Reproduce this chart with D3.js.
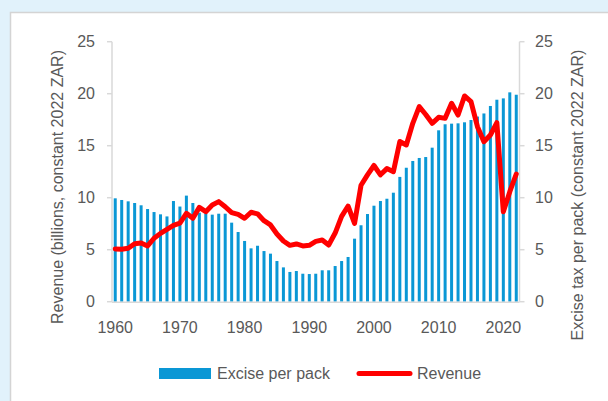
<!DOCTYPE html>
<html lang="en">
<head>
  <meta charset="UTF-8">
  <title>Excise and revenue</title>
  <script src="https://d3js.org/d3.v7.min.js"></script>
  <style>
    body { margin: 0; background-color: #e1f2fb; font-family: "Liberation Sans", Arial, sans-serif; }
    svg { display: block; }
    .lbl { fill: #595959; font-size: 16px; }
    .axisline { stroke: #d9d9d9; stroke-width: 1.5px; fill: none; }
  </style>
</head>
<body>

<svg id="svg"></svg>

<script>
// data
const years = [1960,1961,1962,1963,1964,1965,1966,1967,1968,1969,
  1970,1971,1972,1973,1974,1975,1976,1977,1978,1979,
  1980,1981,1982,1983,1984,1985,1986,1987,1988,1989,
  1990,1991,1992,1993,1994,1995,1996,1997,1998,1999,
  2000,2001,2002,2003,2004,2005,2006,2007,2008,2009,
  2010,2011,2012,2013,2014,2015,2016,2017,2018,2019,
  2020,2021,2022];

const excisePerPack = [9.94,9.78,9.65,9.49,9.27,8.91,8.62,8.40,8.20,9.68,
  9.15,10.2,9.49,8.56,8.50,8.37,8.46,8.46,7.60,6.70,
  5.84,5.13,5.38,4.87,4.62,3.91,3.30,2.86,2.95,2.69,
  2.66,2.69,3.02,3.02,3.43,3.91,4.30,6.06,7.35,8.43,
  9.23,9.68,9.90,10.48,12.0,12.88,13.53,13.82,13.91,14.81,
  16.48,17.06,17.12,17.15,17.25,17.47,17.8,18.1,18.82,19.42,
  19.55,20.13,19.9];

const revenue = [5.07,5.04,5.13,5.58,5.64,5.36,6.10,6.57,6.96,7.34,
  7.55,8.5,8.02,9.07,8.66,9.3,9.62,9.13,8.56,8.4,
  8.02,8.6,8.45,7.79,7.38,6.51,5.84,5.42,5.55,5.36,
  5.42,5.8,5.93,5.45,6.6,8.2,9.2,7.53,11.2,12.2,
  13.1,12.2,12.8,12.5,15.4,15.07,17.15,18.75,18.0,17.15,
  17.73,17.63,19.08,17.95,19.78,19.23,16.83,15.38,16.03,17.21,
  8.65,10.58,12.28];

const yTicks = [0, 5, 10, 15, 20, 25];
const xTickYears = [1960, 1970, 1980, 1990, 2000, 2010, 2020];

const leftTitle = "Revenue (billions, constant 2022 ZAR)";
const rightTitle = "Excise tax per pack (constant 2022 ZAR)";
const legendNames = ["Excise per pack", "Revenue"];

// layout
const width = 608, height = 401;
const plotLeft = 112, plotRight = 519.5, plotTop = 41.7, plotBottom = 301.7;

const svg = d3.select("#svg").attr("width", width).attr("height", height);

// white panel
svg.append("rect")
  .attr("x", 10.5).attr("y", 12.5)
  .attr("width", 620).attr("height", 420)
  .attr("fill", "white")
  .attr("stroke", "#d4d4d4")
  .attr("stroke-width", 1.5);

const x = d3.scaleBand().domain(years).range([plotLeft, plotRight]);
const y = d3.scaleLinear().domain([0, 25]).range([plotBottom, plotTop]);   // revenue
const y2 = d3.scaleLinear().domain([0, 25]).range([plotBottom, plotTop]);  // excise

// axes lines
svg.append("line").attr("class", "axisline")
  .attr("x1", plotLeft).attr("x2", plotLeft).attr("y1", plotTop).attr("y2", plotBottom);
svg.append("line").attr("class", "axisline")
  .attr("x1", plotRight).attr("x2", plotRight).attr("y1", plotTop).attr("y2", plotBottom);

svg.selectAll(".ltick").data(yTicks).join("line")
  .attr("class", "axisline ltick")
  .attr("x1", plotLeft - 5).attr("x2", plotLeft)
  .attr("y1", d => y(d)).attr("y2", d => y(d));
svg.selectAll(".rtick").data(yTicks).join("line")
  .attr("class", "axisline rtick")
  .attr("x1", plotRight).attr("x2", plotRight + 5)
  .attr("y1", d => y2(d)).attr("y2", d => y2(d));

svg.selectAll(".llabel").data(yTicks).join("text")
  .attr("class", "lbl llabel")
  .attr("x", 95).attr("y", d => y(d))
  .attr("dy", "0.35em")
  .attr("text-anchor", "end")
  .text(d => d);
svg.selectAll(".rlabel").data(yTicks).join("text")
  .attr("class", "lbl rlabel")
  .attr("x", 535).attr("y", d => y2(d))
  .attr("dy", "0.35em")
  .attr("text-anchor", "start")
  .text(d => d);

// bars
const barW = 3;
svg.append("g").selectAll("rect")
  .data(years.map((yr, i) => ({year: yr, v: excisePerPack[i]})))
  .join("rect")
  .attr("x", d => x(d.year) + x.bandwidth() / 2 - barW / 2)
  .attr("width", barW)
  .attr("y", d => y2(d.v))
  .attr("height", d => y2(0) - y2(d.v))
  .attr("fill", "#0a97d5");

// x axis line on top of bars
svg.append("line").attr("class", "axisline")
  .attr("x1", plotLeft).attr("x2", plotRight).attr("y1", plotBottom + 0.5).attr("y2", plotBottom + 0.5);

svg.selectAll(".xlabel").data(xTickYears).join("text")
  .attr("class", "lbl xlabel")
  .attr("x", d => x(d) + x.bandwidth() / 2)
  .attr("y", 333)
  .attr("text-anchor", "middle")
  .text(d => d);

// revenue line
const line = d3.line()
  .x((d, i) => x(years[i]) + x.bandwidth() / 2)
  .y(d => y(d));
svg.append("path")
  .attr("d", line(revenue))
  .attr("fill", "none")
  .attr("stroke", "#ff0000")
  .attr("stroke-width", 5)
  .attr("stroke-linejoin", "round")
  .attr("stroke-linecap", "round");

// axis titles
svg.append("text").attr("class", "lbl")
  .attr("transform", "translate(63,187) rotate(-90)")
  .attr("text-anchor", "middle")
  .text(leftTitle);
svg.append("text").attr("class", "lbl")
  .attr("transform", "translate(583,195) rotate(-90)")
  .attr("text-anchor", "middle")
  .text(rightTitle);

// legend
const legY = 373.5;
svg.append("rect")
  .attr("x", 159).attr("y", legY - 5.5)
  .attr("width", 52).attr("height", 11)
  .attr("fill", "#0a97d5");
svg.append("text").attr("class", "lbl")
  .attr("x", 217).attr("y", legY).attr("dy", "0.35em")
  .text(legendNames[0]);
svg.append("line")
  .attr("x1", 359).attr("x2", 410)
  .attr("y1", legY).attr("y2", legY)
  .attr("stroke", "#ff0000")
  .attr("stroke-width", 5)
  .attr("stroke-linecap", "round");
svg.append("text").attr("class", "lbl")
  .attr("x", 417).attr("y", legY).attr("dy", "0.35em")
  .text(legendNames[1]);
</script>

</body>
</html>
